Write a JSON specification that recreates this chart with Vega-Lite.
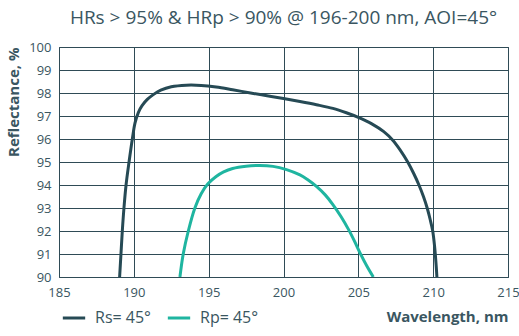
{
  "$schema": "https://vega.github.io/schema/vega-lite/v6.json",
  "width": 449,
  "height": 230,
  "autosize": {"type": "none"},
  "padding": {"left": 59, "top": 47, "right": 11, "bottom": 59},
  "background": "white",
  "title": {
    "text": "HRs > 95% & HRp > 90% @ 196-200 nm, AOI=45°",
    "font": "Open Sans",
    "fontSize": 19,
    "fontWeight": "normal",
    "color": "#3a5661",
    "anchor": "middle",
    "offset": 13
  },
  "config": {
    "font": "Open Sans",
    "view": {"stroke": "#2f4b56", "strokeWidth": 1},
    "axis": {
      "grid": true,
      "gridColor": "#2f4b56",
      "gridOpacity": 1,
      "gridWidth": 1,
      "domain": false,
      "ticks": false,
      "labelFlush": false,
      "labelColor": "#3a5661",
      "labelFont": "Open Sans",
      "labelFontSize": 13,
      "titleColor": "#3a5661",
      "titleFont": "Open Sans",
      "titleFontSize": 15,
      "titleFontWeight": "bold"
    }
  },
  "data": {
    "values": [
      {"wl": 189.05, "r": 90, "s": "Rs= 45°"},
      {"wl": 189.14, "r": 91, "s": "Rs= 45°"},
      {"wl": 189.23, "r": 92, "s": "Rs= 45°"},
      {"wl": 189.34, "r": 93, "s": "Rs= 45°"},
      {"wl": 189.48, "r": 94, "s": "Rs= 45°"},
      {"wl": 189.68, "r": 95, "s": "Rs= 45°"},
      {"wl": 189.9, "r": 96, "s": "Rs= 45°"},
      {"wl": 190.08, "r": 96.7, "s": "Rs= 45°"},
      {"wl": 190.3, "r": 97.15, "s": "Rs= 45°"},
      {"wl": 190.55, "r": 97.45, "s": "Rs= 45°"},
      {"wl": 190.9, "r": 97.72, "s": "Rs= 45°"},
      {"wl": 191.3, "r": 97.93, "s": "Rs= 45°"},
      {"wl": 191.8, "r": 98.12, "s": "Rs= 45°"},
      {"wl": 192.5, "r": 98.27, "s": "Rs= 45°"},
      {"wl": 193.5, "r": 98.34, "s": "Rs= 45°"},
      {"wl": 194.5, "r": 98.33, "s": "Rs= 45°"},
      {"wl": 195.5, "r": 98.26, "s": "Rs= 45°"},
      {"wl": 196.6, "r": 98.14, "s": "Rs= 45°"},
      {"wl": 197.8, "r": 98.0, "s": "Rs= 45°"},
      {"wl": 198.9, "r": 97.88, "s": "Rs= 45°"},
      {"wl": 200.0, "r": 97.76, "s": "Rs= 45°"},
      {"wl": 201.1, "r": 97.63, "s": "Rs= 45°"},
      {"wl": 202.2, "r": 97.49, "s": "Rs= 45°"},
      {"wl": 203.3, "r": 97.33, "s": "Rs= 45°"},
      {"wl": 204.2, "r": 97.14, "s": "Rs= 45°"},
      {"wl": 205.0, "r": 96.94, "s": "Rs= 45°"},
      {"wl": 205.9, "r": 96.66, "s": "Rs= 45°"},
      {"wl": 206.7, "r": 96.32, "s": "Rs= 45°"},
      {"wl": 207.3, "r": 95.95, "s": "Rs= 45°"},
      {"wl": 207.8, "r": 95.52, "s": "Rs= 45°"},
      {"wl": 208.3, "r": 95.0, "s": "Rs= 45°"},
      {"wl": 208.7, "r": 94.5, "s": "Rs= 45°"},
      {"wl": 209.05, "r": 94.0, "s": "Rs= 45°"},
      {"wl": 209.35, "r": 93.5, "s": "Rs= 45°"},
      {"wl": 209.6, "r": 93.0, "s": "Rs= 45°"},
      {"wl": 209.8, "r": 92.5, "s": "Rs= 45°"},
      {"wl": 209.97, "r": 92.0, "s": "Rs= 45°"},
      {"wl": 210.1, "r": 91.3, "s": "Rs= 45°"},
      {"wl": 210.2, "r": 90.5, "s": "Rs= 45°"},
      {"wl": 210.25, "r": 90, "s": "Rs= 45°"},
      {"wl": 193.08, "r": 90, "s": "Rp= 45°"},
      {"wl": 193.3, "r": 91, "s": "Rp= 45°"},
      {"wl": 193.64, "r": 92, "s": "Rp= 45°"},
      {"wl": 194.08, "r": 93, "s": "Rp= 45°"},
      {"wl": 194.5, "r": 93.62, "s": "Rp= 45°"},
      {"wl": 194.95, "r": 94.05, "s": "Rp= 45°"},
      {"wl": 195.5, "r": 94.37, "s": "Rp= 45°"},
      {"wl": 196.0, "r": 94.57, "s": "Rp= 45°"},
      {"wl": 196.6, "r": 94.72, "s": "Rp= 45°"},
      {"wl": 197.5, "r": 94.82, "s": "Rp= 45°"},
      {"wl": 198.4, "r": 94.85, "s": "Rp= 45°"},
      {"wl": 199.3, "r": 94.81, "s": "Rp= 45°"},
      {"wl": 200.2, "r": 94.67, "s": "Rp= 45°"},
      {"wl": 201.1, "r": 94.44, "s": "Rp= 45°"},
      {"wl": 201.6, "r": 94.24, "s": "Rp= 45°"},
      {"wl": 202.2, "r": 93.94, "s": "Rp= 45°"},
      {"wl": 202.8, "r": 93.56, "s": "Rp= 45°"},
      {"wl": 203.3, "r": 93.15, "s": "Rp= 45°"},
      {"wl": 203.85, "r": 92.62, "s": "Rp= 45°"},
      {"wl": 204.35, "r": 92.06, "s": "Rp= 45°"},
      {"wl": 204.75, "r": 91.55, "s": "Rp= 45°"},
      {"wl": 205.12, "r": 91.04, "s": "Rp= 45°"},
      {"wl": 205.55, "r": 90.5, "s": "Rp= 45°"},
      {"wl": 206.0, "r": 90, "s": "Rp= 45°"}
    ]
  },
  "mark": {"type": "line", "strokeWidth": 3, "interpolate": "catmull-rom", "clip": true},
  "encoding": {
    "x": {
      "field": "wl",
      "type": "quantitative",
      "scale": {"domain": [185, 215], "nice": false, "zero": false},
      "axis": {
        "values": [185, 190, 195, 200, 205, 210, 215],
        "title": "Wavelength, nm",
        "titleAnchor": "end",
        "titleAlign": "right",
        "labelPadding": 9,
        "titlePadding": 10
      }
    },
    "y": {
      "field": "r",
      "type": "quantitative",
      "scale": {"domain": [90, 100], "nice": false, "zero": false},
      "axis": {
        "values": [90, 91, 92, 93, 94, 95, 96, 97, 98, 99, 100],
        "title": "Reflectance, %",
        "titleAnchor": "end",
        "titleAlign": "right",
        "labelPadding": 8,
        "titlePadding": 7
      }
    },
    "color": {
      "field": "s",
      "type": "nominal",
      "scale": {"domain": ["Rs= 45°", "Rp= 45°"], "range": ["#264a55", "#1fb5a0"]},
      "legend": {
        "title": null,
        "orient": "none",
        "direction": "horizontal",
        "legendX": 2,
        "legendY": 258,
        "symbolType": "stroke",
        "symbolSize": 500,
        "symbolStrokeWidth": 3,
        "labelFontSize": 16,
        "labelColor": "#3a5661",
        "labelFont": "Open Sans",
        "labelOffset": 8,
        "columnPadding": 10
      }
    }
  }
}
